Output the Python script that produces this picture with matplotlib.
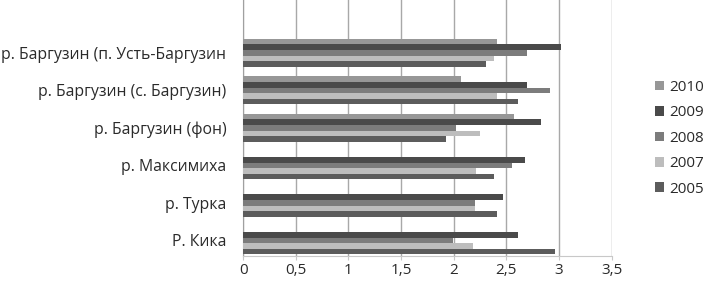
import numpy as np
import matplotlib
matplotlib.use("Agg")
import matplotlib.pyplot as plt

plt.rcParams['font.family'] = ['Open Sans', 'DejaVu Sans']

# categories from top to bottom
sites = ['р. Баргузин (п. Усть-Баргузин', 'р. Баргузин (с. Баргузин)',
         'р. Баргузин (фон)', 'р. Максимиха', 'р. Турка', 'Р. Кика']
years = ['2010', '2009', '2008', '2007', '2005']
v2010 = [2.41, 2.07, 2.57, 0, 0, 0]
v2009 = [3.02, 2.70, 2.83, 2.68, 2.47, 2.61]
v2008 = [2.70, 2.91, 2.02, 2.55, 2.20, 1.99]
v2007 = [2.38, 2.41, 2.25, 2.21, 2.20, 2.18]
v2005 = [2.31, 2.61, 1.93, 2.38, 2.41, 2.96]
colors = ['#979797', '#4a4a4a', '#7c7c7c', '#bdbdbd', '#5c5c5c']

series = [v2010, v2009, v2008, v2007, v2005]

fig = plt.figure(figsize=(7.13, 2.83), dpi=100)
ax = fig.add_axes([0.341, 0.095, 0.517, 0.905])

y = np.arange(len(sites))
h = 0.15
for i, (vals, yr, c) in enumerate(zip(series, years, colors)):
    ax.barh(y + (i - 2) * h, vals, height=h, color=c, label=yr, zorder=3)

ax.set_xlim(0, 3.5)
ax.set_ylim(5.42, -1.41)
ax.set_xticks(np.arange(0, 3.51, 0.5))
ax.set_xticklabels(['0', '0,5', '1', '1,5', '2', '2,5', '3', '3,5'])
ax.set_yticks(y)
ax.set_yticklabels(sites)
ax.grid(axis='x', color='#a8a8a8', linewidth=1, zorder=0)
for s in ['top', 'right']:
    ax.spines[s].set_visible(False)
ax.spines['left'].set_color('#a0a0a0')
ax.spines['bottom'].set_color('#c8c8c8')
ax.tick_params(axis='x', colors='#c8c8c8', labelcolor='#2a2a2a', labelsize=11, length=3, pad=2)
ax.tick_params(axis='y', length=0, labelcolor='#2a2a2a', labelsize=11.3, pad=12)

ax.legend(loc='center left', bbox_to_anchor=(1.08, 0.46), frameon=False,
          handlelength=0.6, handleheight=0.6, handletextpad=0.35,
          labelspacing=0.68, fontsize=11, labelcolor='#2a2a2a')

fig.savefig('out.png', dpi=100)
